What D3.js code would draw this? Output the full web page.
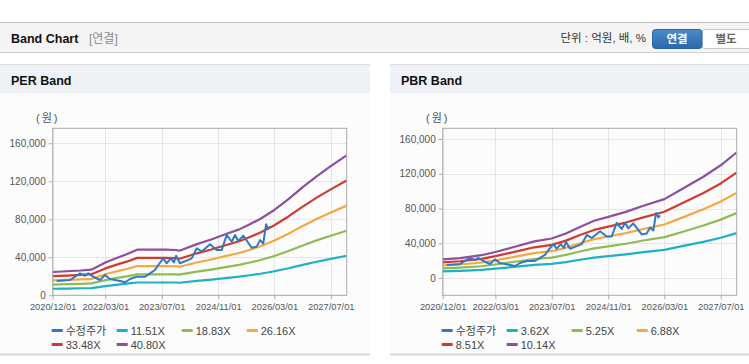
<!DOCTYPE html>
<html>
<head>
<meta charset="utf-8">
<script src="https://cdn.jsdelivr.net/npm/d3@7"></script>
<style>
body { margin: 0; background: #fff; font-family: "Liberation Sans", Arial, "Noto Sans CJK KR", sans-serif; }
svg { display: block; }
</style>
</head>
<body>
<svg id="chart" width="749" height="364"></svg>
<script>
// ---- data ----
var xTickDates = ["2020-12-01", "2022-03-01", "2023-07-01", "2024-11-01", "2026-03-01", "2027-07-01"];
var yTicks = [0, 40000, 80000, 120000, 160000];

// adjusted price (same series in both charts)
var priceDates = ["2021-01-05","2021-04-30","2021-07-25","2021-09-06","2021-10-05","2021-11-17","2022-01-14","2022-02-26","2022-04-10","2022-05-23","2022-07-06","2022-08-18","2022-09-30","2022-11-27","2023-02-07","2023-03-22","2023-05-04","2023-06-02","2023-07-15","2023-08-13","2023-09-17","2023-10-15","2023-11-02","2023-12-06","2024-01-18","2024-03-16","2024-04-29","2024-06-11","2024-08-22","2024-10-18","2024-12-01","2025-01-13","2025-02-25","2025-03-26","2025-04-23","2025-06-05","2025-08-17","2025-09-29","2025-10-28","2025-11-25","2025-12-19","2026-01-08","2026-01-23"];
var priceValues = [15000,16100,23100,20600,23100,19500,16100,21400,17200,16100,15000,13700,17200,19500,19500,23100,26600,31900,38900,33700,38900,34700,41700,33700,35800,38900,49500,46000,53700,47800,47800,63500,56400,63500,57100,62800,50100,51200,58100,54600,74700,69800,72200];

// PER bands
var perLabels = ["11.51X", "18.83X", "26.16X", "33.48X", "40.80X"];
var perDates = ["2020-12-01","2021-04-01","2021-08-01","2021-11-01","2022-03-01","2022-06-01","2022-09-01","2022-12-01","2023-04-01","2023-08-01","2023-11-01","2023-12-01","2024-05-01","2024-09-01","2025-01-01","2025-05-01","2025-08-01","2025-11-01","2026-03-01","2026-07-01","2026-11-01","2027-03-01","2027-07-01","2027-11-15"];
var per1 = [6900,7100,7400,7600,9700,11000,12200,13500,13500,13500,13500,13200,15200,16600,18100,19600,21100,22700,25300,28500,32100,35300,38300,41600];
var per2 = [11300,11700,12100,12500,15900,18000,19900,22100,22100,22100,22000,21700,24900,27100,29600,32000,34500,37200,41400,46700,52500,57800,62700,68000];
var per3 = [15700,16200,16700,17300,22100,25000,27700,30800,30800,30800,30600,30100,34500,37700,41200,44500,47900,51700,57600,64900,73000,80300,87100,94400];
var per4 = [20100,20800,21400,22200,28300,32000,35400,39400,39400,39400,39200,38500,44200,48200,52700,56900,61300,66100,73700,83000,93400,102800,111500,120900];
var per5 = [24500,25300,26100,27000,34500,39000,43200,48000,48000,48000,47700,46900,53900,58800,64200,69400,74700,80600,89800,101200,113800,125300,135900,147300];

// PBR bands
var pbrLabels = ["3.62X", "5.25X", "6.88X", "8.51X", "10.14X"];
var pbrDates = ["2020-12-01","2021-05-01","2021-11-01","2022-03-01","2022-09-01","2023-02-01","2023-07-01","2023-11-01","2024-03-01","2024-07-01","2024-11-01","2025-04-01","2025-09-01","2026-03-01","2026-08-01","2027-02-01","2027-07-01","2027-11-15"];
var pbr1 = [7600,8200,9300,10700,13000,15000,16200,18300,21000,23500,25100,27200,29700,32400,36600,41600,46300,51600];
var pbr2 = [11000,11900,13500,15500,18900,21800,23500,26500,30500,34100,36400,39400,43100,47000,53000,60400,67200,74800];
var pbr3 = [14400,15500,17800,20300,24800,28600,30800,34700,39900,44700,47700,51600,56400,61600,69500,79100,88100,98000];
var pbr4 = [17900,19200,22000,25100,30600,35300,38100,43000,49400,55300,59100,63800,69800,76200,86000,97900,108900,121300];
var pbr5 = [21300,22900,26200,29900,36500,42100,45400,51200,58800,65900,70400,76100,83100,90800,102400,116600,129800,144500];

var priceColor = "#3377c7";
var bandColors = ["#1eb0c8", "#8fbb52", "#f5a742", "#d23a2e", "#8d4f9e"];

// ---- drawing ----
var parse = d3.timeParse("%Y-%m-%d");
var svg = d3.select("#chart");
var font = '"Liberation Sans", Arial, "Noto Sans CJK KR", sans-serif';

// top header bar
svg.append("rect").attr("x", 0).attr("y", 22).attr("width", 749).attr("height", 31).attr("fill", "#f4f4f4");
svg.append("line").attr("x1", 0).attr("x2", 749).attr("y1", 22.5).attr("y2", 22.5).attr("stroke", "#c4c4c4");
svg.append("line").attr("x1", 0).attr("x2", 749).attr("y1", 52.5).attr("y2", 52.5).attr("stroke", "#d0d0d0");
svg.append("text").attr("x", 11).attr("y", 43).attr("font-size", 12.5).attr("font-weight", "bold")
  .attr("fill", "#111").text("Band Chart");
svg.append("text").attr("x", 89).attr("y", 43).attr("font-size", 12).attr("fill", "#8a8a8a").text("[연결]");
svg.append("text").attr("x", 646).attr("y", 42).attr("font-size", 11.5).attr("fill", "#333")
  .attr("text-anchor", "end").text("단위 : 억원, 배, %");

var grad = svg.append("defs").append("linearGradient").attr("id", "btn").attr("x1", 0).attr("x2", 0).attr("y1", 0).attr("y2", 1);
grad.append("stop").attr("offset", "0%").attr("stop-color", "#4a8bcc");
grad.append("stop").attr("offset", "100%").attr("stop-color", "#2a68aa");
svg.append("rect").attr("x", 702).attr("y", 29.5).attr("width", 52).attr("height", 19).attr("rx", 3)
  .attr("fill", "#fff").attr("stroke", "#c8c8c8");
svg.append("rect").attr("x", 652.5).attr("y", 29.5).attr("width", 49.5).attr("height", 19).attr("rx", 3)
  .attr("fill", "url(#btn)").attr("stroke", "#2c65a3");
svg.append("text").attr("x", 677).attr("y", 43).attr("font-size", 11.5).attr("font-weight", "bold")
  .attr("fill", "#fff").attr("text-anchor", "middle").text("연결");
svg.append("text").attr("x", 726).attr("y", 43).attr("font-size", 11.5).attr("font-weight", "bold")
  .attr("fill", "#666").attr("text-anchor", "middle").text("별도");

function drawPanel(cfg) {
  var g = svg.append("g").attr("transform", "translate(" + cfg.left + ",0)");
  var w = cfg.width;

  g.append("rect").attr("x", 0).attr("y", 64).attr("width", w).attr("height", 291).attr("fill", "#fcfcfd");
  g.append("rect").attr("x", 0).attr("y", 64).attr("width", w).attr("height", 29).attr("fill", "#eef2f7");
  g.append("line").attr("x1", 0).attr("x2", w).attr("y1", 64.5).attr("y2", 64.5).attr("stroke", "#dcdcdc");
  g.append("line").attr("x1", 0).attr("x2", w).attr("y1", 354.5).attr("y2", 354.5).attr("stroke", "#d8d8d8").attr("stroke-width", 2);
  g.append("text").attr("x", 11).attr("y", 85).attr("font-size", 12.5).attr("font-weight", "bold")
    .attr("fill", "#111").text(cfg.title);
  g.append("text").attr("x", cfg.unitX).attr("y", 122).attr("font-size", 11).attr("fill", "#555")
    .attr("letter-spacing", 2).text("(원)");

  var x = d3.scaleTime().domain([parse("2020-12-01"), parse("2027-11-16")]).range([cfg.x0, cfg.x0 + 294]);
  var y = d3.scaleLinear().domain(cfg.yDomain).range([295.3, 128.3]);

  // grid
  var grid = g.append("g");
  grid.selectAll(".gy").data(yTicks).enter().append("line")
    .attr("x1", cfg.x0).attr("x2", cfg.x0 + 294)
    .attr("y1", function(d) { return Math.round(y(d)) + 0.5; })
    .attr("y2", function(d) { return Math.round(y(d)) + 0.5; })
    .attr("stroke", "#e6e6e6");
  grid.selectAll(".gx").data(xTickDates).enter().append("line")
    .attr("x1", function(d) { return Math.round(x(parse(d))) + 0.5; })
    .attr("x2", function(d) { return Math.round(x(parse(d))) + 0.5; })
    .attr("y1", 128.3).attr("y2", 295.3)
    .attr("stroke", "#e6e6e6");

  // axes
  var yAxis = d3.axisLeft(y).tickValues(yTicks).tickSize(4).tickPadding(3).tickFormat(d3.format(","));
  var xAxis = d3.axisBottom(x).tickValues(xTickDates.map(parse)).tickSize(4).tickPadding(4)
    .tickFormat(d3.timeFormat("%Y/%m/%d"));
  var ya = g.append("g").attr("transform", "translate(" + cfg.x0 + ",0)").call(yAxis);
  var xa = g.append("g").attr("transform", "translate(0,295.3)").call(xAxis);
  [ya, xa].forEach(function(a) {
    a.select(".domain").remove();
    a.selectAll("line").attr("stroke", "#aaa");
    a.selectAll("text").attr("fill", "#555").attr("font-family", font);
  });
  ya.selectAll("text").attr("font-size", 10);
  xa.selectAll("text").attr("font-size", 9.3);

  // bands
  var line = d3.line().x(function(d) { return x(d[0]); }).y(function(d) { return y(d[1]); });
  cfg.bands.forEach(function(vals, i) {
    var pts = cfg.dates.map(function(d, j) { return [parse(d), vals[j]]; });
    g.append("path").datum(pts).attr("d", line).attr("fill", "none")
      .attr("stroke", bandColors[i]).attr("stroke-width", 2.2).attr("stroke-linejoin", "round");
  });
  var pp = priceDates.map(function(d, j) { return [parse(d), priceValues[j]]; });
  g.append("path").datum(pp).attr("d", line).attr("fill", "none")
    .attr("stroke", priceColor).attr("stroke-width", 2).attr("stroke-linejoin", "round");

  // plot frame
  g.append("rect").attr("x", cfg.x0).attr("y", 128.3).attr("width", 294).attr("height", 167)
    .attr("fill", "none").attr("stroke", "#aaa");

  // legend
  var items = [{ name: "수정주가", color: priceColor }].concat(cfg.labels.map(function(l, i) {
    return { name: l, color: bandColors[i] };
  }));
  items.forEach(function(it, i) {
    var col = i < 4 ? i : i - 4, row = i < 4 ? 0 : 1;
    var lx = 51.7 + col * 65, ly = 330.5 + row * 14;
    g.append("line").attr("x1", lx).attr("x2", lx + 11).attr("y1", ly).attr("y2", ly)
      .attr("stroke", it.color).attr("stroke-width", 3);
    g.append("text").attr("x", lx + 14).attr("y", ly + 4).attr("font-size", 11).attr("fill", "#444").text(it.name);
  });
}

drawPanel({ left: 0, width: 370, title: "PER Band", x0: 52.7, unitX: 36, yDomain: [0, 175800],
  dates: perDates, bands: [per1, per2, per3, per4, per5], labels: perLabels });
drawPanel({ left: 390, width: 359, title: "PBR Band", x0: 52.7, unitX: 36, yDomain: [-20000, 172400],
  dates: pbrDates, bands: [pbr1, pbr2, pbr3, pbr4, pbr5], labels: pbrLabels });
</script>
</body>
</html>
